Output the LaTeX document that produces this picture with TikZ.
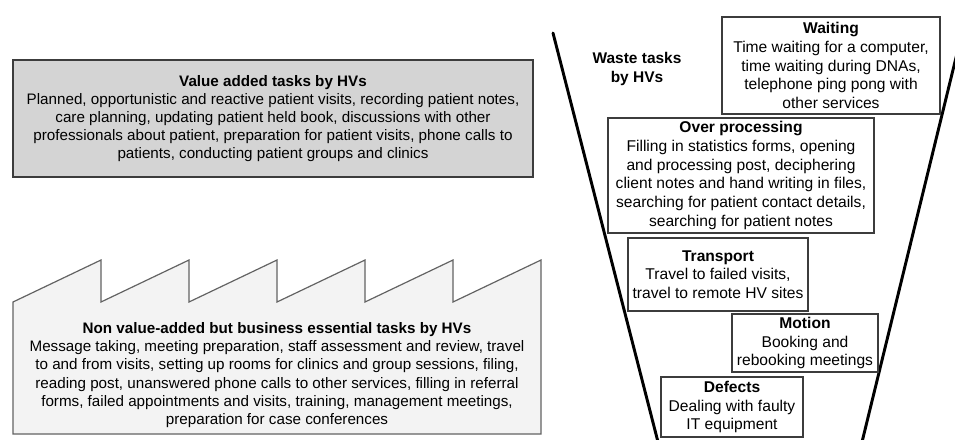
\documentclass[tikz,border=0pt]{standalone}
\usepackage{fontspec}
\setmainfont{Liberation Sans}
\usetikzlibrary{positioning}
\definecolor{vagray}{RGB}{212,212,212}
\definecolor{nvgray}{RGB}{243,243,243}
\definecolor{edgegray}{RGB}{60,60,60}

\begin{document}
\begin{tikzpicture}[x=0.75pt,y=-0.75pt,font=\fontsize{11.4}{13.6}\selectfont,
    taskbox/.style={draw=edgegray,line width=1.1pt,align=center,inner sep=0pt},
    wastebox/.style={taskbox,fill=white,font=\fontsize{11.7}{14}\selectfont},
    funnel/.style={line width=2.2pt,line cap=round}]
  \useasboundingbox (0,0) rectangle (955,439);
  % funnel sides
  \coordinate (fl-top) at (553,33);
  \coordinate (fl-bot) at (658,442);
  \coordinate (fr-top) at (962,33);
  \coordinate (fr-bot) at (862,442);
  \draw[funnel] (fl-top) -- (fl-bot);
  \draw[funnel] (fr-top) -- (fr-bot);
  \node[font=\fontsize{11.6}{13.8}\selectfont\bfseries,align=center] (wastelbl) at (637,69) {Waste tasks\\by HVs};
  % value added
  \node[taskbox,fill=vagray,minimum width=390pt,minimum height=87.75pt] (va) at (273,118.5)
    {\textbf{Value added tasks by HVs}\\
     Planned, opportunistic and reactive patient visits, recording patient notes,\\
     care planning, updating patient held book, discussions with other\\
     professionals about patient, preparation for patient visits, phone calls to\\
     patients, conducting patient groups and clinics};
  % factory outline
  \draw[draw=edgegray!80,fill=nvgray,line width=0.9pt] (13,434) -- (13,302)
    \foreach \i in {1,...,5} { -- ({13+88*\i},260) -- ({13+88*\i},302) }
    -- (541,260) -- (541,434) -- cycle;
  \node[align=center,inner sep=0pt] (nv) at (277,375)
    {\textbf{Non value-added but business essential tasks by HVs}\\
     Message taking, meeting preparation, staff assessment and review, travel\\
     to and from visits, setting up rooms for clinics and group sessions, filing,\\
     reading post, unanswered phone calls to other services, filling in referral\\
     forms, failed appointments and visits, training, management meetings,\\
     preparation for case conferences};
  % waste boxes
  \node[wastebox,minimum width=163.5pt,minimum height=72.75pt] (waiting) at (831,65.5)
    {\textbf{Waiting}\\Time waiting for a computer,\\time waiting during DNAs,\\telephone ping pong with\\other services};
  \node[wastebox,minimum width=199.5pt,minimum height=86.25pt] (overproc) at (741,175.5)
    {\textbf{Over processing}\\Filling in statistics forms, opening\\and processing post, deciphering\\client notes and hand writing in files,\\searching for patient contact details,\\searching for patient notes};
  \node[wastebox,minimum width=135pt,minimum height=54.75pt] (transport) at (718,274.5)
    {\textbf{Transport}\\Travel to failed visits,\\travel to remote HV sites};
  \node[wastebox,minimum width=109.5pt,minimum height=43.5pt] (motion) at (805,343)
    {\textbf{Motion}\\Booking and\\rebooking meetings};
  \node[wastebox,minimum width=106.5pt,minimum height=45pt] (defects) at (732,407)
    {\textbf{Defects}\\Dealing with faulty\\IT equipment};
\end{tikzpicture}
\end{document}
